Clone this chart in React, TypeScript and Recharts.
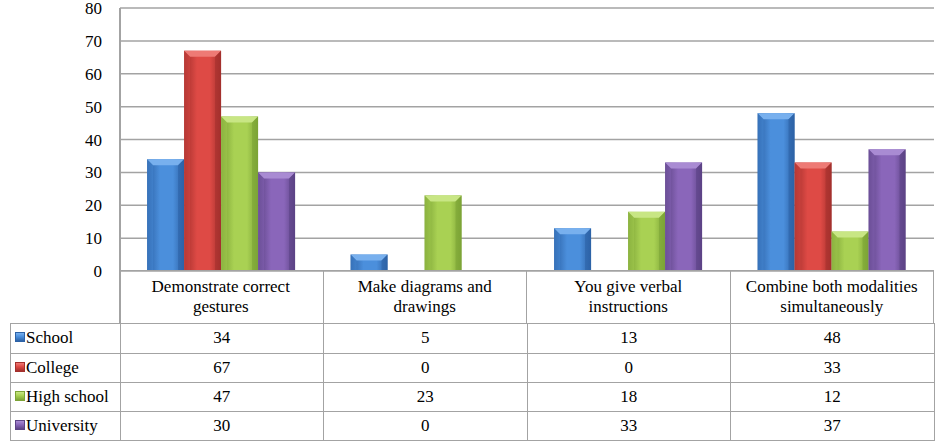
import { BarChart, Bar, XAxis, YAxis, CartesianGrid } from 'recharts';

const categories = [
  'Demonstrate correct\ngestures',
  'Make diagrams and\ndrawings',
  'You give verbal\ninstructions',
  'Combine both modalities\nsimultaneously',
];
const school = [34, 5, 13, 48];
const college = [67, 0, 0, 33];
const highSchool = [47, 23, 18, 12];
const university = [30, 0, 33, 37];
const yTicks = [0, 10, 20, 30, 40, 50, 60, 70, 80];

const SERIES = [
  { key: 'school', name: 'School', values: school, edge: '#2d62a6', mid: '#4b8fdc', top: '#78b0ee' },
  { key: 'college', name: 'College', values: college, edge: '#a3302d', mid: '#de4a45', top: '#ee7a75' },
  { key: 'highSchool', name: 'High school', values: highSchool, edge: '#7ca336', mid: '#a9d153', top: '#c8e684' },
  { key: 'university', name: 'University', values: university, edge: '#5c4385', mid: '#8a66ba', top: '#a98bd3' },
];

const data = categories.map((c, i) => ({
  name: c,
  school: school[i],
  college: college[i],
  highSchool: highSchool[i],
  university: university[i],
}));

const FONT = 'Liberation Serif, Tinos, DejaVu Serif, serif';
const GRID = '#a3a3a3';
const LINE = `1.5px solid ${GRID}`;
const PLOT_LEFT = 120;
const PLOT_RIGHT = 934;
const PLOT_BOTTOM = 271;
const COL_W = (PLOT_RIGHT - PLOT_LEFT) / categories.length;
const HEADER_H = 53;
const ROW_H = 29;

function BevelBar(props: any) {
  const { x, y, width, height, seriesKey } = props;
  if (!height || height <= 0) return null;
  const s = SERIES.find((d) => d.key === seriesKey)!;
  const b = Math.min(6, height / 2, width / 2);
  return (
    <g>
      <rect x={x} y={y} width={width} height={height} fill={`url(#grad-${s.key})`} />
      <polygon
        points={`${x},${y} ${x + width},${y} ${x + width - b},${y + b} ${x + b},${y + b}`}
        fill={s.top}
      />
      <polygon
        points={`${x},${y} ${x + b},${y + b} ${x + b},${y + height} ${x},${y + height}`}
        fill={s.mid}
        opacity={0.35}
      />
      <polygon
        points={`${x + width},${y} ${x + width - b},${y + b} ${x + width - b},${y + height} ${x + width},${y + height}`}
        fill={s.edge}
        opacity={0.6}
      />
    </g>
  );
}

function Swatch({ s }: { s: (typeof SERIES)[number] }) {
  return (
    <span
      style={{
        display: 'inline-block',
        width: 8,
        height: 8,
        marginRight: 1,
        verticalAlign: 1,
        background: `linear-gradient(${s.top}, ${s.mid} 45%, ${s.edge})`,
        border: `1px solid ${s.edge}`,
      }}
    />
  );
}

export default function App() {
  return (
    <div style={{ position: 'absolute', left: 0, top: 0, width: 937, height: 448, background: '#fff', fontFamily: FONT }}>
      <BarChart
        width={937}
        height={448}
        data={data}
        margin={{ top: 8, right: 937 - PLOT_RIGHT, bottom: 448 - PLOT_BOTTOM, left: 0 }}
        barCategoryGap="13.3%"
        barGap={0}
      >
        <defs>
          {SERIES.map((s) => (
            <linearGradient key={s.key} id={`grad-${s.key}`} x1="0" y1="0" x2="1" y2="0">
              <stop offset="0%" stopColor={s.edge} />
              <stop offset="35%" stopColor={s.mid} />
              <stop offset="70%" stopColor={s.mid} />
              <stop offset="100%" stopColor={s.edge} />
            </linearGradient>
          ))}
        </defs>
        <CartesianGrid vertical={false} stroke={GRID} strokeWidth={1.5} />
        <XAxis dataKey="name" hide />
        <YAxis
          width={PLOT_LEFT}
          domain={[0, 80]}
          ticks={yTicks}
          interval={0}
          tickSize={0}
          tickMargin={18}
          axisLine={false}
          tick={{ fill: '#000', fontSize: 17, fontFamily: FONT }}
        />
        {SERIES.map((s) => (
          <Bar
            key={s.key}
            dataKey={s.key}
            name={s.name}
            isAnimationActive={false}
            shape={(p: any) => <BevelBar {...p} seriesKey={s.key} />}
          />
        ))}
      </BarChart>

      {/* y-axis line running through plot and header */}
      <div style={{ position: 'absolute', left: PLOT_LEFT - 1, top: 8, width: 1.5, height: PLOT_BOTTOM + HEADER_H - 8, background: GRID }} />

      {/* header row */}
      <div style={{ position: 'absolute', left: PLOT_LEFT - 1, top: PLOT_BOTTOM - 1, width: PLOT_RIGHT - PLOT_LEFT + 1, height: HEADER_H + 1, borderTop: LINE, borderRight: LINE, boxSizing: 'border-box', display: 'flex' }}>
        {categories.map((c, i) => (
          <div
            key={c}
            style={{
              width: COL_W,
              borderLeft: i === 0 ? 'none' : LINE,
              boxSizing: 'border-box',
              whiteSpace: 'pre-line',
              textAlign: 'center',
              fontSize: 17,
              lineHeight: '20px',
              paddingTop: 6,
              color: '#000',
            }}
          >
            {c}
          </div>
        ))}
      </div>

      {/* data rows */}
      <div
        style={{
          position: 'absolute',
          left: 10,
          top: PLOT_BOTTOM + HEADER_H - 1,
          width: PLOT_RIGHT - 10 + 1,
          border: LINE,
          boxSizing: 'border-box',
          fontSize: 17,
          color: '#000',
        }}
      >
        {SERIES.map((s, r) => (
          <div
            key={s.key}
            style={{
              display: 'flex',
              height: ROW_H,
              lineHeight: `${ROW_H - 1}px`,
              borderTop: r === 0 ? 'none' : LINE,
              boxSizing: 'border-box',
            }}
          >
            <div style={{ width: PLOT_LEFT - 11.5, paddingLeft: 4, boxSizing: 'border-box', whiteSpace: 'nowrap' }}>
              <Swatch s={s} />
              {s.name}
            </div>
            {s.values.map((v, i) => (
              <div key={i} style={{ width: COL_W, borderLeft: LINE, boxSizing: 'border-box', textAlign: 'center' }}>
                {v}
              </div>
            ))}
          </div>
        ))}
      </div>
    </div>
  );
}
